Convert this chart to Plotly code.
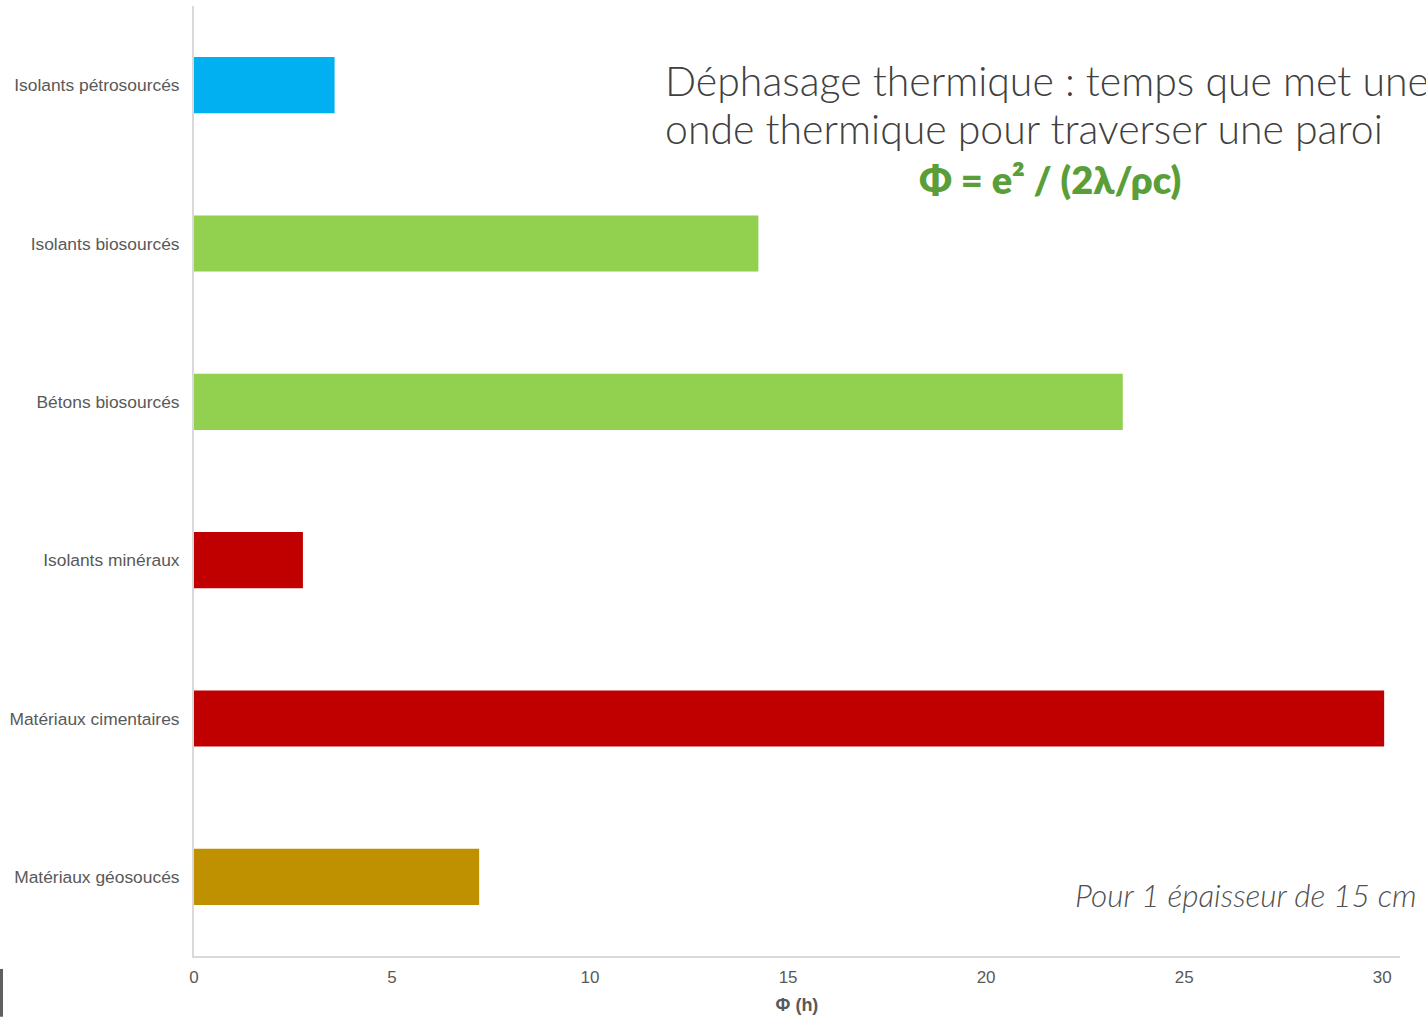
import plotly.graph_objects as go

categories = ["Isolants pétrosourcés", "Isolants biosourcés", "Bétons biosourcés",
              "Isolants minéraux", "Matériaux cimentaires", "Matériaux géosoucés"]
values = [3.55, 14.25, 23.45, 2.75, 30.05, 7.2]
colors = ["#00b0f0", "#92d050", "#92d050", "#c00000", "#c00000", "#bf9000"]
x_ticks = [0, 5, 10, 15, 20, 25, 30]

fig = go.Figure()
fig.add_trace(go.Bar(
    y=categories, x=values, orientation="h",
    marker=dict(color=colors, line=dict(width=0)),
    width=0.355, showlegend=False,
))

W, H = 1426, 1018
ml, mr, mt, mb = 194, 26, 6, 58
pw = W - ml - mr
ph = H - mt - mb

def px(x):
    return (x - ml) / pw

def py(y):
    return (H - mb - y) / ph

fig.update_layout(
    width=W, height=H,
    margin=dict(l=ml, r=mr, t=mt, b=mb, pad=0),
    paper_bgcolor="white", plot_bgcolor="white",
    font=dict(family="Liberation Sans, Arial, sans-serif", color="#555555", size=17),
    xaxis=dict(
        range=[0, 30.45], tickvals=x_ticks, showgrid=False, zeroline=False,
        showline=True, linecolor="#d9d9d9", linewidth=2,
        ticks="", ticklabelstandoff=5, tickfont=dict(size=17, color="#595959"),
        title=dict(text="<b>Φ (h)</b>", font=dict(size=18, color="#595959"), standoff=12),
    ),
    yaxis=dict(
        categoryorder="array", categoryarray=categories, autorange="reversed",
        showgrid=False, zeroline=False, showline=True, linecolor="#d9d9d9", linewidth=2,
        ticks="", ticklabelstandoff=9, tickfont=dict(size=17.4, color="#595959"),
    ),
    annotations=[
        dict(xref="paper", yref="paper", x=px(663), y=py(81), xanchor="left", yanchor="middle",
             text="Déphasage thermique : temps que met une",
             showarrow=False,
             font=dict(family="Lato, sans-serif", size=41, color="#404040", weight=300)),
        dict(xref="paper", yref="paper", x=px(663), y=py(129), xanchor="left", yanchor="middle",
             text="onde thermique pour traverser une paroi",
             showarrow=False,
             font=dict(family="Lato, sans-serif", size=41, color="#404040", weight=300)),
        dict(xref="paper", yref="paper", x=px(1050), y=py(180), xanchor="center", yanchor="middle",
             text="Φ = e² / (2λ/ρc)", showarrow=False,
             font=dict(family="Lato, sans-serif", size=38, color="#5a9e3a", weight=800)),
        dict(xref="paper", yref="paper", x=px(1419), y=py(899), xanchor="right", yanchor="middle",
             text="Pour 1 épaisseur de 15 cm", showarrow=False,
             font=dict(family="Lato, sans-serif", size=31.5, color="#505050", weight=300,
                       style="italic")),
    ],
    shapes=[
        dict(type="rect", xref="paper", yref="paper", x0=px(0), x1=px(3), y0=py(1021), y1=py(973),
             fillcolor="#606060", line=dict(width=0)),
    ],
)

fig.write_html("out.html", config={"displayModeBar": False},
               post_script="document.body.style.margin='0';")
